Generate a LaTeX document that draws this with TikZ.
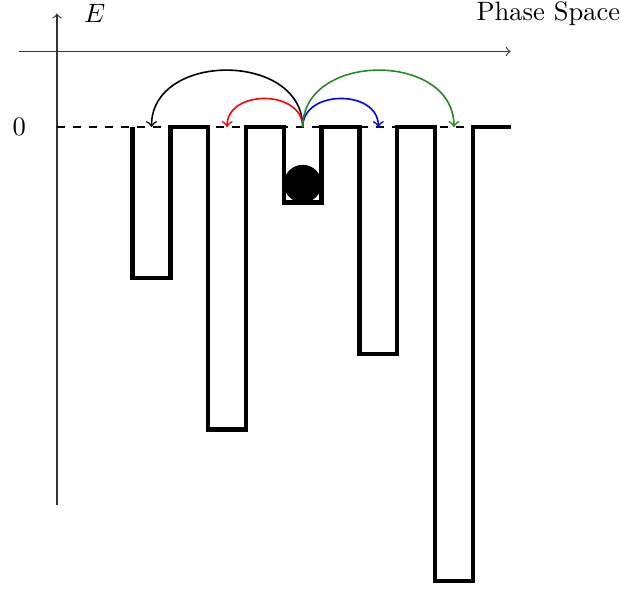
\documentclass[tikz,border=0pt]{standalone}
\definecolor{arcgreen}{RGB}{34,139,34}
\begin{document}
\begin{tikzpicture}[x=0.5cm,y=0.5cm,
  axis/.style={->, draw=black!80},
  wall/.style={ultra thick, line join=miter},
  jump/.style={->, semithick}]
\useasboundingbox (-1.508,-12.196) rectangle (14.92,3.36);
% axes
\coordinate (hl) at (-1,2);
\coordinate (hr) at (12,2);
\coordinate (vb) at (0,-10);
\coordinate (vt) at (0,3);
\draw[axis] (hl) -- (hr);
\draw[axis] (vb) -- (vt);
\node (E) at (1,3) {$E$};
\node (ps) at (13,3) {Phase Space};
\node (zero) at (-1,0) {0};
% zero level
\coordinate (z0) at (0,0);
\coordinate (z1) at (11,0);
\draw[dashed] (z0) -- (z1);
% wells
\draw[wall] (2,0) -- (2,-4) -- (3,-4) -- (3,0) -- (4,0) -- (4,-8) -- (5,-8) -- (5,0)
  -- (6,0) -- (6,-2) -- (7,-2) -- (7,0) -- (8,0) -- (8,-6) -- (9,-6) -- (9,0)
  -- (10,0) -- (10,-12) -- (11,-12) -- (11,0) -- (12,0);
% ball
\fill (6.5,-1.5) circle[radius=0.25cm];
% jumps
\coordinate (s) at (6.5,0);
\coordinate (t1) at (2.5,0);
\coordinate (t2) at (4.5,0);
\coordinate (t3) at (8.5,0);
\coordinate (t4) at (10.5,0);
\draw[jump, black] (s) .. controls +(0,2) and +(0,2) .. (t1);
\draw[jump, red] (s) .. controls +(0,1) and +(0,1) .. (t2);
\draw[jump, blue] (s) .. controls +(0,1) and +(0,1) .. (t3);
\draw[jump, arcgreen] (s) .. controls +(0,2) and +(0,2) .. (t4);
\end{tikzpicture}
\end{document}
